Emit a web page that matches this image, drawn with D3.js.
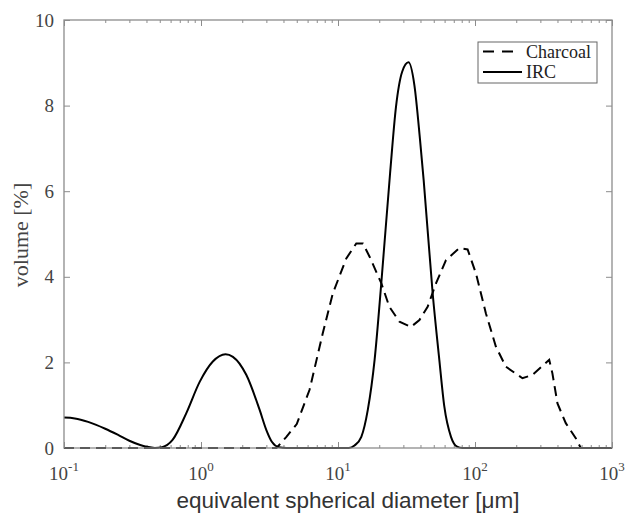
<!DOCTYPE html>
<html>
<head>
<meta charset="utf-8">
<script src="https://cdn.jsdelivr.net/npm/d3@7"></script>
<style>
  body { margin: 0; background: #fff; }
  svg { display: block; }
</style>
</head>
<body>
<svg width="628" height="513"></svg>
<script>
// particle size distributions (size in um, volume in %)
var charcoalSize = [0.1, 3.56, 4.2, 5.0, 6.2, 7.74, 9.16, 11.5, 13.6, 15.2, 17.0, 20.7, 23.7, 28.1, 34.1, 39.3, 45.1, 52.0, 61.4, 76.7, 88.3, 101.6, 120, 142, 168, 222, 263, 348, 367, 400, 460, 544, 592, 1000];
var charcoalVol  = [0, 0, 0.26, 0.56, 1.36, 2.68, 3.61, 4.43, 4.78, 4.78, 4.47, 3.85, 3.30, 2.95, 2.83, 2.99, 3.30, 3.85, 4.39, 4.67, 4.64, 4.08, 3.15, 2.37, 1.90, 1.63, 1.71, 2.06, 1.75, 1.04, 0.58, 0.23, 0, 0];

var ircSize = [0.1, 0.12, 0.15, 0.2, 0.25, 0.3, 0.36, 0.4, 0.46, 0.52, 0.62, 0.78, 0.98, 1.22, 1.51, 1.71, 2.14, 2.68, 3.0, 3.3, 3.7, 4.2, 12, 13.2, 14.8, 16.5, 18.5, 20.7, 24.0, 26.5, 29.4, 32.7, 36.1, 39.7, 42.2, 49.1, 54.9, 59.7, 66.8, 74, 80.8, 1000];
var ircVol  = [0.71, 0.69, 0.61, 0.45, 0.30, 0.17, 0.07, 0.03, 0, 0.02, 0.19, 0.81, 1.55, 2.02, 2.19, 2.13, 1.71, 0.89, 0.42, 0.14, 0.02, 0, 0, 0.06, 0.26, 0.89, 2.06, 3.85, 6.42, 7.97, 8.79, 9.01, 8.48, 7.2, 6.26, 3.61, 2.06, 0.97, 0.26, 0.03, 0, 0];

var xMajor = [0.1, 1, 10, 100, 1000];
var xExp = ["-1", "0", "1", "2", "3"];
var yTicks = [0, 2, 4, 6, 8, 10];
var seriesNames = ["Charcoal", "IRC"];

var svg = d3.select("svg"),
    margin = {top: 20, right: 16, bottom: 65, left: 64},
    width = 628 - margin.left - margin.right,
    height = 513 - margin.top - margin.bottom,
    g = svg.append("g").attr("transform", "translate(" + margin.left + "," + margin.top + ")");

var x = d3.scaleLog().domain([0.1, 1000]).range([0, width]);
var y = d3.scaleLinear().domain([0, 10]).range([height, 0]);

var xMinor = [];
xMajor.slice(0, -1).forEach(function(d) {
  for (var k = 2; k <= 9; k++) xMinor.push(d * k);
});

var axisColor = "#8c8c8c";

function styleAxis(sel) {
  sel.select(".domain").remove();
  sel.selectAll("line").attr("stroke", axisColor);
}

// ticks, all pointing inward
g.append("g").attr("transform", "translate(0," + height + ")")
  .call(d3.axisBottom(x).tickValues(xMajor).tickSize(-6).tickFormat(""))
  .call(styleAxis);
g.append("g").attr("transform", "translate(0," + height + ")")
  .call(d3.axisBottom(x).tickValues(xMinor).tickSize(-3).tickFormat(""))
  .call(styleAxis);
g.append("g")
  .call(d3.axisTop(x).tickValues(xMajor).tickSize(-6).tickFormat(""))
  .call(styleAxis);
g.append("g")
  .call(d3.axisTop(x).tickValues(xMinor).tickSize(-3).tickFormat(""))
  .call(styleAxis);

var yAxis = g.append("g")
  .call(d3.axisLeft(y).tickValues(yTicks).tickSize(-6).tickPadding(10).tickFormat(d3.format("d")))
  .call(styleAxis);
yAxis.selectAll("text")
  .attr("font-family", "'Liberation Serif', 'Times New Roman', serif")
  .attr("font-size", 19)
  .attr("fill", "#444");

g.append("g").attr("transform", "translate(" + width + ",0)")
  .call(d3.axisRight(y).tickValues(yTicks).tickSize(-6).tickFormat(""))
  .call(styleAxis);

// x tick labels as powers of ten
var xl = g.append("g").selectAll("text")
  .data(xMajor)
  .enter().append("text")
  .attr("x", function(d) { return x(d); })
  .attr("y", height + 32)
  .attr("text-anchor", "middle")
  .attr("font-family", "'Liberation Serif', 'Times New Roman', serif")
  .attr("fill", "#444");
xl.append("tspan").attr("font-size", 19).text("10");
xl.append("tspan").attr("font-size", 13).attr("dy", -9)
  .text(function(d, i) { return xExp[i]; });

// lines
var line = d3.line()
  .x(function(d) { return x(d[0]); })
  .y(function(d) { return y(d[1]); });

var charcoalData = charcoalSize.map(function(d, i) { return [d, charcoalVol[i]]; });
var ircData = ircSize.map(function(d, i) { return [d, ircVol[i]]; });

g.append("path")
  .datum(charcoalData)
  .attr("fill", "none")
  .attr("stroke", "#000")
  .attr("stroke-width", 2)
  .attr("stroke-dasharray", "10,6")
  .attr("d", line);

g.append("path")
  .datum(ircData)
  .attr("fill", "none")
  .attr("stroke", "#000")
  .attr("stroke-width", 2)
  .attr("stroke-linejoin", "round")
  .attr("d", line.curve(d3.curveMonotoneX));

// box
g.append("rect")
  .attr("width", width)
  .attr("height", height)
  .attr("fill", "none")
  .attr("stroke", axisColor)
  .attr("stroke-width", 1.3);

// axis labels
svg.append("text")
  .attr("x", 348)
  .attr("y", 508)
  .attr("text-anchor", "middle")
  .attr("font-family", "'Liberation Sans', Arial, sans-serif")
  .attr("font-size", 22.5)
  .attr("fill", "#333")
  .text("equivalent spherical diameter [μm]");

svg.append("text")
  .attr("transform", "translate(28,235) rotate(-90)")
  .attr("text-anchor", "middle")
  .attr("font-family", "'Liberation Serif', 'Times New Roman', serif")
  .attr("font-size", 22)
  .attr("fill", "#444")
  .text("volume [%]");

// legend
var legend = svg.append("g").attr("transform", "translate(478,42)");
legend.append("rect")
  .attr("width", 119)
  .attr("height", 41)
  .attr("fill", "#fff")
  .attr("stroke", "#666")
  .attr("stroke-width", 1);
seriesNames.forEach(function(name, i) {
  var ly = 9.5 + i * 20.5;
  legend.append("line")
    .attr("x1", 5).attr("x2", i === 0 ? 36 : 44)
    .attr("y1", ly).attr("y2", ly)
    .attr("stroke", "#000")
    .attr("stroke-width", 2)
    .attr("stroke-dasharray", i === 0 ? "11,8" : null);
  legend.append("text")
    .attr("x", 48)
    .attr("y", ly + 6)
    .attr("font-family", "'Liberation Serif', 'Times New Roman', serif")
    .attr("font-size", 18)
    .attr("fill", "#222")
    .text(name);
});
</script>
</body>
</html>
